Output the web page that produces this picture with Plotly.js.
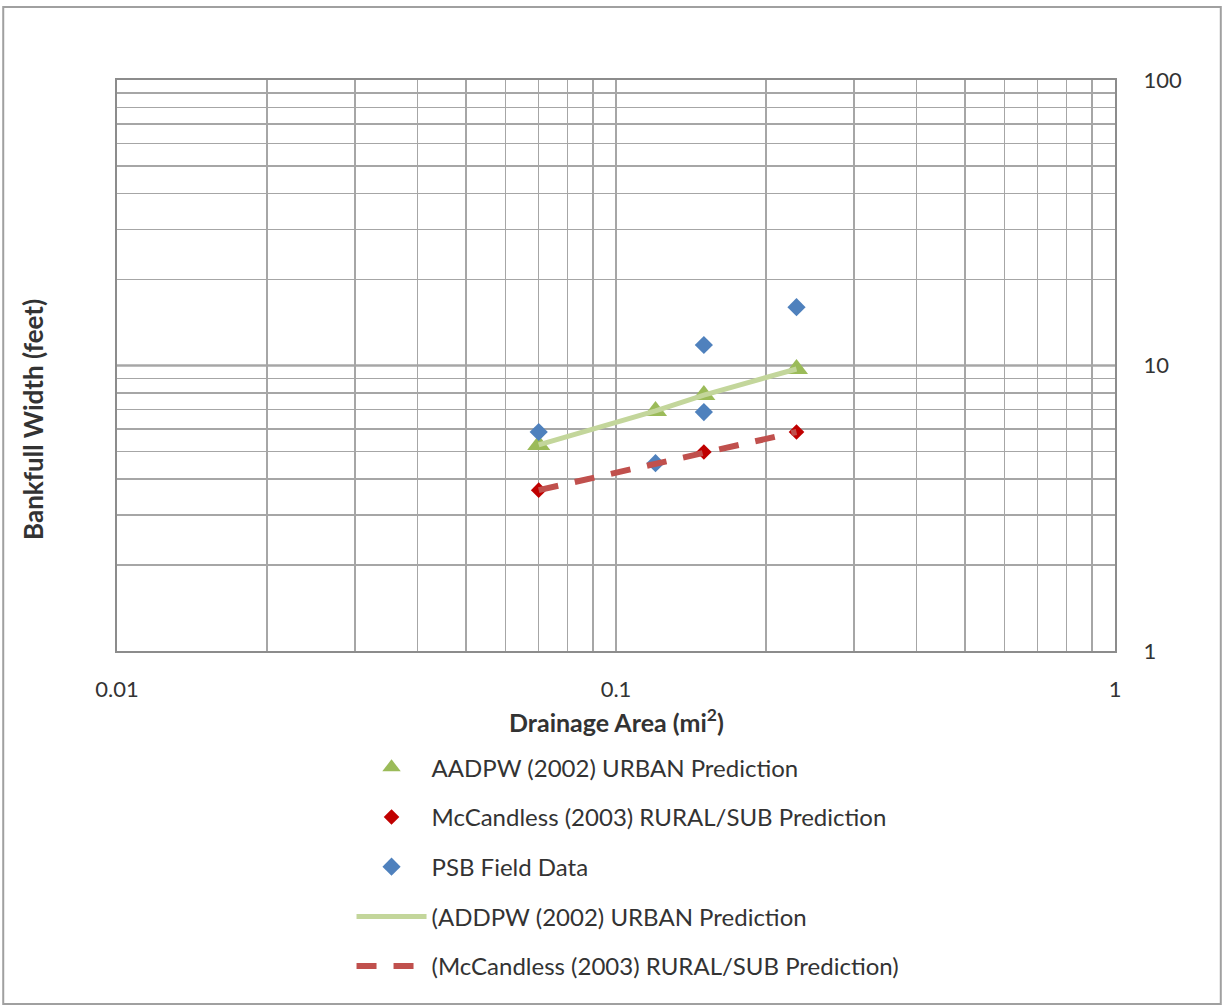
<!DOCTYPE html>
<html>
<head>
<meta charset="utf-8">
<script src="https://cdn.plot.ly/plotly-3.0.1.min.js"></script>
<style>html,body{margin:0;padding:0;background:#fff;}#chart{width:1225px;height:1008px;}</style>
</head>
<body>
<div id="chart"></div>
<script>
// Drainage area (mi^2)
const urbanArea = [0.07, 0.12, 0.15, 0.23];
const urbanWidth = [5.27, 6.93, 7.88, 9.72];
const ruralArea = [0.07, 0.12, 0.15, 0.23];
const ruralWidth = [3.66, 4.55, 4.98, 5.85];
const fieldArea = [0.07, 0.12, 0.15, 0.15, 0.23];
const fieldWidth = [5.85, 4.55, 6.87, 11.8, 16.0];

const xTickVals = [0.01,0.02,0.03,0.04,0.05,0.06,0.07,0.08,0.09,0.1,0.2,0.3,0.4,0.5,0.6,0.7,0.8,0.9,1];
const xTickText = ['0.01','','','','','','','','','0.1','','','','','','','','','1'];
const yTickVals = [1,2,3,4,5,6,7,8,9,10,20,30,40,50,60,70,80,90,100];
const yTickText = ['1','','','','','','','','','10','','','','','','','','','100'];

const FONT = 'Lato, "Open Sans", sans-serif';
const TXT = '#333333';

const traces = [
  {x: urbanArea, y: urbanWidth, mode: 'markers', type: 'scatter', name: 'AADPW (2002) URBAN Prediction',
   legendgroup: 'a', marker: {symbol: 'triangle-up', color: '#9BBB59', size: 20}},
  {x: ruralArea, y: ruralWidth, mode: 'markers', type: 'scatter', name: 'McCandless (2003) RURAL/SUB Prediction',
   legendgroup: 'b', marker: {symbol: 'diamond', color: '#C00000', size: 12}},
  {x: fieldArea, y: fieldWidth, mode: 'markers', type: 'scatter', name: 'PSB Field Data',
   legendgroup: 'c', marker: {symbol: 'diamond', color: '#4F81BD', size: 14}},
  {x: urbanArea, y: urbanWidth, mode: 'lines', type: 'scatter', name: '(ADDPW (2002) URBAN Prediction',
   legendgroup: 'd', line: {color: '#C3D69B', width: 5}},
  {x: ruralArea, y: ruralWidth, mode: 'lines', type: 'scatter', name: '(McCandless (2003) RURAL/SUB Prediction)',
   legendgroup: 'e', line: {color: '#C0504D', width: 6, dash: '20px,17px'}}
];

const layout = {
  width: 1225, height: 1008,
  paper_bgcolor: '#ffffff', plot_bgcolor: '#ffffff',
  margin: {l: 117, r: 110, t: 80, b: 357},
  font: {family: FONT, color: TXT, size: 22},
  showlegend: true,
  legend: {
    x: 0.235, xanchor: 'left', y: -0.165, yanchor: 'top',
    traceorder: 'grouped', tracegroupgap: 15.5, itemwidth: 70,
    font: {family: FONT, size: 24, color: TXT},
    bgcolor: 'rgba(0,0,0,0)'
  },
  xaxis: {
    type: 'log', range: [-2, 0],
    tickmode: 'array', tickvals: xTickVals, ticktext: xTickText,
    showgrid: true, gridcolor: '#a6a6a6', gridwidth: 1.5,
    showline: true, linecolor: '#8c8c8c', linewidth: 2, mirror: true,
    ticks: '', ticklabelstandoff: 18,
    tickfont: {family: FONT, size: 22, color: TXT},
    zeroline: false
  },
  yaxis: {
    type: 'log', range: [0, 2], side: 'right',
    tickmode: 'array', tickvals: yTickVals, ticktext: yTickText,
    showgrid: true, gridcolor: '#a6a6a6', gridwidth: 1.5,
    showline: true, linecolor: '#8c8c8c', linewidth: 2, mirror: true,
    ticks: '', ticklabelstandoff: 22,
    tickfont: {family: FONT, size: 22, color: TXT},
    zeroline: false
  },
  shapes: [
    {type: 'line', xref: 'paper', yref: 'y', x0: 0, x1: 1, y0: 10, y1: 10,
     line: {color: '#7f7f7f', width: 2}, layer: 'below'},
    {type: 'rect', xref: 'paper', yref: 'paper', x0: -0.114, x1: 1.106, y0: -0.618, y1: 1.128,
     line: {color: '#a0a0a0', width: 2}, fillcolor: 'rgba(0,0,0,0)'}
  ],
  annotations: [
    {text: '<b>Drainage Area (mi<sup>2</sup>)</b>', xref: 'paper', yref: 'paper', x: 0.5, y: -0.122,
     xanchor: 'center', yanchor: 'middle', showarrow: false, font: {family: FONT, size: 25, color: TXT}},
    {text: '<b>Bankfull Width (feet)</b>', xref: 'paper', yref: 'paper', x: -0.084, y: 0.405,
     xanchor: 'center', yanchor: 'middle', textangle: -90, showarrow: false, font: {family: FONT, size: 26, color: TXT}}
  ]
};

Plotly.newPlot('chart', traces, layout, {displayModeBar: false, staticPlot: true});
</script>
</body>
</html>
